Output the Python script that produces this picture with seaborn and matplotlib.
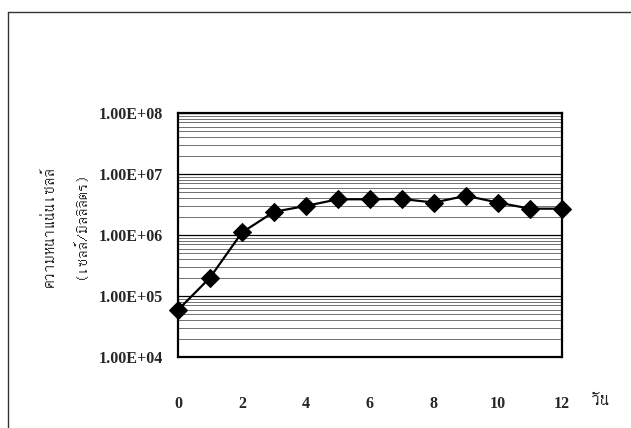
import matplotlib
matplotlib.use("Agg")
import matplotlib.pyplot as plt
from matplotlib import font_manager
from matplotlib.ft2font import FT2Font
import seaborn as sns
import pandas as pd
from matplotlib.ticker import LogLocator, FixedLocator, NullFormatter

days = [0, 1, 2, 3, 4, 5, 6, 7, 8, 9, 10, 11, 12]
density = [5.9e4, 2.0e5, 1.1e6, 2.4e6, 3.0e6, 3.85e6, 3.85e6, 3.9e6, 3.4e6, 4.4e6, 3.4e6, 2.7e6, 2.7e6]
ytick_vals = [1e4, 1e5, 1e6, 1e7, 1e8]
ytick_labels = ["1.00E+04", "1.00E+05", "1.00E+06", "1.00E+07", "1.00E+08"]
xtick_vals = [0, 2, 4, 6, 8, 10, 12]
ylabel_1 = "ความหนาแน่นเซลล์"
ylabel_2 = "(เซลล์/มิลลิลิตร)"
xlabel = "วัน"

# find a font with Thai glyphs
thai_font = None
for f in font_manager.fontManager.ttflist:
    try:
        ft = FT2Font(f.fname)
        cm = ft.get_charmap()
        if ord("ว") in cm and ord("ั") in cm:
            thai_font = f.name
            if "Serif" in f.name or "Loma" not in f.name:
                break
    except Exception:
        pass
thai_fam = [thai_font, "DejaVu Sans"] if thai_font else ["DejaVu Sans"]

sns.set_style("white")
plt.rcParams["font.family"] = ["Liberation Serif", "DejaVu Serif"]

fig = plt.figure(figsize=(6.31, 4.28), dpi=100)
ax = fig.add_axes([178/631, 1-357/428, (562-178)/631, (357-113)/428])

df = pd.DataFrame({"day": days, "density": density})
sns.lineplot(data=df, x="day", y="density", ax=ax, color="black", lw=1.6,
             marker="D", markersize=9, markeredgecolor="black", zorder=5, clip_on=False)

ax.set_yscale("log")
ax.set_ylim(1e4, 1e8)
ax.set_xlim(0, 12)
ax.yaxis.set_major_locator(FixedLocator(ytick_vals))
ax.set_yticklabels(ytick_labels)
ax.yaxis.set_minor_locator(LogLocator(base=10, subs=range(2, 10)))
ax.yaxis.set_minor_formatter(NullFormatter())
ax.set_xticks(xtick_vals)
ax.set_xticklabels([str(v) for v in xtick_vals])

ax.grid(True, which="major", axis="y", color="black", lw=0.9)
ax.grid(True, which="minor", axis="y", color="0.35", lw=0.6)
ax.grid(False, axis="x")
for s in ax.spines.values():
    s.set_color("black")
    s.set_linewidth(1.6)

ax.tick_params(axis="y", which="major", direction="out", length=5, width=1, labelsize=11.5, pad=6)
ax.tick_params(axis="y", which="minor", length=0)
ax.tick_params(axis="x", which="major", direction="out", length=4, width=1, labelsize=11.5, pad=24)
for t in ax.get_xticklabels() + ax.get_yticklabels():
    t.set_fontweight("bold")

ax.set_xlabel("")
ax.set_ylabel("")
fig.text(48/631, 1-227/428, ylabel_1, rotation=90, ha="center", va="center",
         family=thai_fam, fontsize=12.5, fontweight="bold")
fig.text(79/631, 1-225/428, ylabel_2, rotation=90, ha="center", va="center",
         family=thai_fam, fontsize=12, fontweight="bold")
fig.text(600/631, 1-399/428, xlabel, ha="center", va="center",
         family=thai_fam, fontsize=14, fontweight="bold")

# outer frame (scanned page border)
fig.add_artist(plt.Line2D([8/631, 8/631], [0, 1-12/428], transform=fig.transFigure, color="0.2", lw=1))
fig.add_artist(plt.Line2D([8/631, 1], [1-12/428, 1-12/428], transform=fig.transFigure, color="0.2", lw=1))

fig.savefig("out.png", dpi=100)
